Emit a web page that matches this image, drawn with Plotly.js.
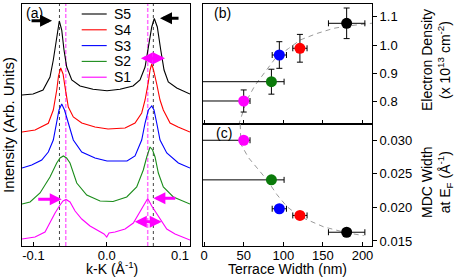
<!DOCTYPE html>
<html><head><meta charset="utf-8">
<script src="https://cdn.plot.ly/plotly-3.0.1.min.js"></script>
<style>html,body{margin:0;padding:0;background:#fff}</style>
</head><body><div id="chart" style="width:463px;height:278px"></div>
<script>
// ---- data ----
const sampleNames = ['S1','S2','S3','S4','S5'];
const lineColors = ['#ff00ff','#1a8c1a','#0000ff','#ff0000','#000000'];
const markerColors = ['#ff00ff','#0a7a0a','#0000ff','#ff0000','#000000'];

// MDC curves (k-K, 1/Å) and offset intensities (arb. units)
const kS5 = [-0.1156,-0.1005,-0.0869,-0.0774,-0.0729,-0.0692,-0.0647,-0.0614,-0.0583,-0.0546,-0.0477,-0.0364,-0.0187,0.0004,0.0181,0.0359,0.0454,0.0523,0.0568,0.0614,0.0649,0.0690,0.0737,0.0782,0.0840,0.0955,0.1136];
const iS5 = [151,152,156,169,186,206,225,216,196,179,166,160,156.7,155.3,156.7,160,166,179,199,219,227.5,219,196,176,164,158,152];
const kS4 = [-0.1156,-0.0978,-0.0797,-0.0729,-0.0682,-0.0658,-0.0628,-0.0596,-0.0569,-0.0524,-0.0456,-0.0341,-0.0160,0.0018,0.0250,0.0386,0.0477,0.0523,0.0568,0.0591,0.0614,0.0638,0.0682,0.0727,0.0772,0.0864,0.0973,0.1136];
const iS4 = [114,116,122.7,136,156,170,178,172,159,139,129,123,119,117,118,123,133,146,164,176,182,176,162,146,136,123,119,114];
const kS3 = [-0.1156,-0.1023,-0.0887,-0.0797,-0.0729,-0.0682,-0.0651,-0.0614,-0.0576,-0.0524,-0.0456,-0.0341,-0.0160,0.0004,0.0113,0.0277,0.0386,0.0477,0.0523,0.0568,0.0614,0.0645,0.0682,0.0727,0.0819,0.0977,0.1136];
const iS3 = [78,81,86,94,106,123,136,142,136,123,106,94,88,85,85,85,90,106,123,136,140,136,123,106,93,83,78];
const kS2 = [-0.1156,-0.1046,-0.0910,-0.0774,-0.0682,-0.0637,-0.0592,-0.0548,-0.0501,-0.0409,-0.0273,-0.0091,0.0086,0.0273,0.0409,0.0499,0.0546,0.0591,0.0625,0.0659,0.0704,0.0772,0.0909,0.1136];
const iS2 = [42,44,53,69,83,88,90,88,83,63,51,45,44.5,49,59,76,89,99,96,89,73,59,49,42];
const kS1 = [-0.1156,-0.0978,-0.0842,-0.0774,-0.0705,-0.0637,-0.0596,-0.0555,-0.0501,-0.0432,-0.0341,-0.0228,-0.0091,-0.0037,0,0.0031,0.0113,0.0250,0.0363,0.0454,0.0523,0.0559,0.0614,0.0682,0.0750,0.0819,0.0932,0.1136];
const iS1 = [7,9,14,24,33,41,45,46.5,44,35,27,20,14,12,9,13,14,17,23,34,43,47.5,40,32,24,17,12,6];

// peak positions (dashed guides)
const peakK_S5 = [-0.0645, 0.0636];
const peakK_S1 = [-0.0559, 0.0559];

// panel (b)/(c) values, order S1..S5
const terraceWidth = [50, 85, 95, 121, 180];
const widthErrPlus = [8, 16, 9, 9, 23];
const widthErrMinus = [60, 90, 9, 9, 23];
const electronDensity = [0.8025, 0.8706, 0.9648, 0.9885, 1.0767];
const densityErr = [0.039, 0.044, 0.047, 0.049, 0.054];
const mdcWidth = [0.0300, 0.0241, 0.0198, 0.0188, 0.0163];

// dashed guide curves
const fitBx = [43.5,45.6,54,64.6,77.2,89.9,106.7,121.5,142.7,163.7,180.6,212];
const fitBy = [0.717,0.735,0.806,0.859,0.906,0.953,0.988,1.018,1.041,1.059,1.067,1.077];
const fitCx = [45.6,46.5,56.1,66.7,79.4,92,104.7,121.5,151,180.6,201.6];
const fitCy = [0.0324,0.0294,0.0274,0.0259,0.0241,0.0219,0.0201,0.0186,0.0171,0.0162,0.0158];

// ticks
const kTicks = [-0.1, 0, 0.1];
const kTickLabels = ['-0.1','0.0','0.1'];
const widthTicks = [0, 50, 100, 150, 200];
const densityTicks = [0.8, 0.9, 1.0, 1.1];
const densityTickLabels = ['0.8','0.9','1.0','1.1'];
const mdcTicks = [0.015, 0.020, 0.025, 0.030];
const mdcTickLabels = ['0.015','0.020','0.025','0.030'];

// ---- traces ----
const curveK = [kS1,kS2,kS3,kS4,kS5];
const curveI = [iS1,iS2,iS3,iS4,iS5];
const traces = [];
for (let s = 4; s >= 0; s--) {
  traces.push({x: curveK[s], y: curveI[s], type:'scatter', mode:'lines', name: sampleNames[s],
    line:{color: lineColors[s], width:1.1}, xaxis:'x', yaxis:'y', hoverinfo:'skip'});
}
const errX = {type:'data', symmetric:false, array: widthErrPlus, arrayminus: widthErrMinus, color:'#000', thickness:1, width:3};
traces.push({x: fitBx, y: fitBy, mode:'lines', line:{color:'#999', width:1, dash:'5px,4px'}, xaxis:'x2', yaxis:'y2'});
traces.push({x: terraceWidth, y: electronDensity, mode:'markers', xaxis:'x2', yaxis:'y2',
  marker:{size:11, color: markerColors}, error_x: errX,
  error_y:{type:'data', array: densityErr, color:'#000', thickness:1, width:3}});
traces.push({x: fitCx, y: fitCy, mode:'lines', line:{color:'#999', width:1, dash:'5px,4px'}, xaxis:'x3', yaxis:'y3'});
traces.push({x: terraceWidth, y: mdcWidth, mode:'markers', xaxis:'x3', yaxis:'y3',
  marker:{size:11, color: markerColors}, error_x: errX});

// ---- layout helpers ----
const L = 22, R = 91, T = 4, B = 32, W = 463, H = 278;
const pw = W - L - R, ph = H - T - B;
const px2paper = p => (p - L) / pw;
const py2paper = p => (H - B - p) / ph;

const shapes = [];
peakK_S5.forEach(k => shapes.push({type:'line', xref:'x', yref:'y domain', x0:k, x1:k, y0:0, y1:1, layer:'below',
  line:{color:'#444', width:1, dash:'3px,3px'}}));
peakK_S1.forEach(k => shapes.push({type:'line', xref:'x', yref:'y domain', x0:k, x1:k, y0:0, y1:1, layer:'below',
  line:{color:'#ff70ff', width:1.5, dash:'4px,2px'}}));

const annotations = [];
// legend (drawn as annotations so rows are spaced like the original)
const legendRows = [14, 29.8, 45.6, 61.4, 77.2];
for (let r = 0; r < 5; r++) {
  const s = 4 - r;
  shapes.push({type:'line', xref:'paper', yref:'paper', x0:px2paper(81.7), x1:px2paper(106.7),
    y0:py2paper(legendRows[r]), y1:py2paper(legendRows[r]), line:{color: lineColors[s], width:1.1}});
  annotations.push({xref:'paper', yref:'paper', x:px2paper(112), y:py2paper(legendRows[r]), xanchor:'left', yanchor:'middle',
    text: sampleNames[s], showarrow:false, font:{size:14}});
}
// panel labels
annotations.push({xref:'paper', yref:'paper', x:px2paper(24), y:py2paper(13), xanchor:'left', yanchor:'middle', text:'(a)', showarrow:false, font:{size:14}});
annotations.push({xref:'paper', yref:'paper', x:px2paper(212), y:py2paper(12.7), xanchor:'left', yanchor:'middle', text:'(b)', showarrow:false, font:{size:14}});
annotations.push({xref:'paper', yref:'paper', x:px2paper(214), y:py2paper(133), xanchor:'left', yanchor:'middle', text:'(c)', showarrow:false, font:{size:14}});
// axis titles
annotations.push({xref:'paper', yref:'paper', x:px2paper(112), y:py2paper(277.5), xanchor:'center', yanchor:'bottom', borderpad:0,
  text:'k-K (Å<sup>-1</sup>)', showarrow:false, font:{size:14}});
annotations.push({xref:'paper', yref:'paper', x:px2paper(287), y:py2paper(277.5), xanchor:'center', yanchor:'bottom', borderpad:0,
  text:'Terrace Width (nm)', showarrow:false, font:{size:14}});
annotations.push({xref:'paper', yref:'paper', x:px2paper(436), y:py2paper(60), xanchor:'center', yanchor:'middle', textangle:-90,
  text:'Electron Density<br>(x 10<sup>13</sup> cm<sup>-2</sup>)', showarrow:false, font:{size:14}});
annotations.push({xref:'paper', yref:'paper', x:px2paper(437), y:py2paper(182), xanchor:'center', yanchor:'middle', textangle:-90,
  text:'MDC Width<br>at E<sub>F</sub> (Å<sup>-1</sup>)', showarrow:false, font:{size:14}});

// arrows in panel (a): [tipK, tipI, tailK, tailI, color, double]
const arrows = [
  [-0.0746, 225.3, -0.1046, 225.3, '#000', false],
  [0.0727, 227.7, 0.1000, 227.7, '#000', false],
  [0.0795, 187.7, 0.0445, 187.7, '#ff00ff', true],
  [-0.0614, 46.7, -0.0955, 46.7, '#ff00ff', false],
  [0.0636, 47.7, 0.0955, 47.7, '#ff00ff', false],
  [0.0750, 24.3, 0.0363, 24.3, '#ff00ff', true]
];
arrows.forEach(a => {
  const ann = {xref:'x', yref:'y', axref:'x', ayref:'y', x:a[0], y:a[1], ax:a[2], ay:a[3], text:'', showarrow:true,
    arrowcolor:a[4], arrowwidth:3, arrowhead:2, arrowsize:0.8, standoff:0, startstandoff:0};
  if (a[5]) { ann.arrowside = 'end+start'; ann.startarrowhead = 2; ann.startarrowsize = 0.8; }
  annotations.push(ann);
});

const common = {showgrid:false, zeroline:false, linecolor:'#000', linewidth:1, tickcolor:'#000', showline:true};
const yb = [0.7213, 1.1448], yc = [0.01425, 0.03242], xw = [-2, 212];
const splitY = py2paper(124);

const layout = {
  width:W, height:H, margin:{l:L, r:R, t:T, b:B},
  paper_bgcolor:'#fff', plot_bgcolor:'#fff', showlegend:false,
  font:{family:'Liberation Sans, Arial, sans-serif', size:13, color:'#000'},
  xaxis:Object.assign({}, common, {domain:[0, px2paper(190)], anchor:'y', range:[-0.1156, 0.1136], tickvals:kTicks, ticktext:kTickLabels,
    ticks:'inside', ticklen:4, mirror:true, ticklabelstandoff:-3}),
  yaxis:Object.assign({}, common, {domain:[0,1], anchor:'x', range:[0,242], showticklabels:false, ticks:'', mirror:true,
    title:{text:'Intensity (Arb. Units)', font:{size:15}}}),
  xaxis2:Object.assign({}, common, {domain:[px2paper(202.5), 1], anchor:'y2', range:xw, tickvals:widthTicks, showticklabels:false,
    ticks:'inside', ticklen:4, mirror:true}),
  yaxis2:Object.assign({}, common, {domain:[splitY, 1], anchor:'x2', side:'right', range:yb, tickvals:densityTicks, ticktext:densityTickLabels,
    ticks:'outside', ticklen:4, mirror:true}),
  yaxis4:Object.assign({}, common, {overlaying:'y2', anchor:'x2', side:'left', range:yb, tickvals:densityTicks, showticklabels:false,
    ticks:'inside', ticklen:5, showline:false}),
  xaxis3:Object.assign({}, common, {domain:[px2paper(202.5), 1], anchor:'y3', range:xw, tickvals:widthTicks,
    ticks:'inside', ticklen:4, mirror:true, ticklabelstandoff:-3}),
  yaxis3:Object.assign({}, common, {domain:[0, splitY], anchor:'x3', side:'right', range:yc, tickvals:mdcTicks, ticktext:mdcTickLabels,
    ticks:'outside', ticklen:4, mirror:true}),
  yaxis5:Object.assign({}, common, {overlaying:'y3', anchor:'x3', side:'left', range:yc, tickvals:mdcTicks, showticklabels:false,
    ticks:'inside', ticklen:5, showline:false}),
  shapes: shapes,
  annotations: annotations
};

Plotly.newPlot('chart', traces, layout, {staticPlot:true, displayModeBar:false});
</script></body></html>
